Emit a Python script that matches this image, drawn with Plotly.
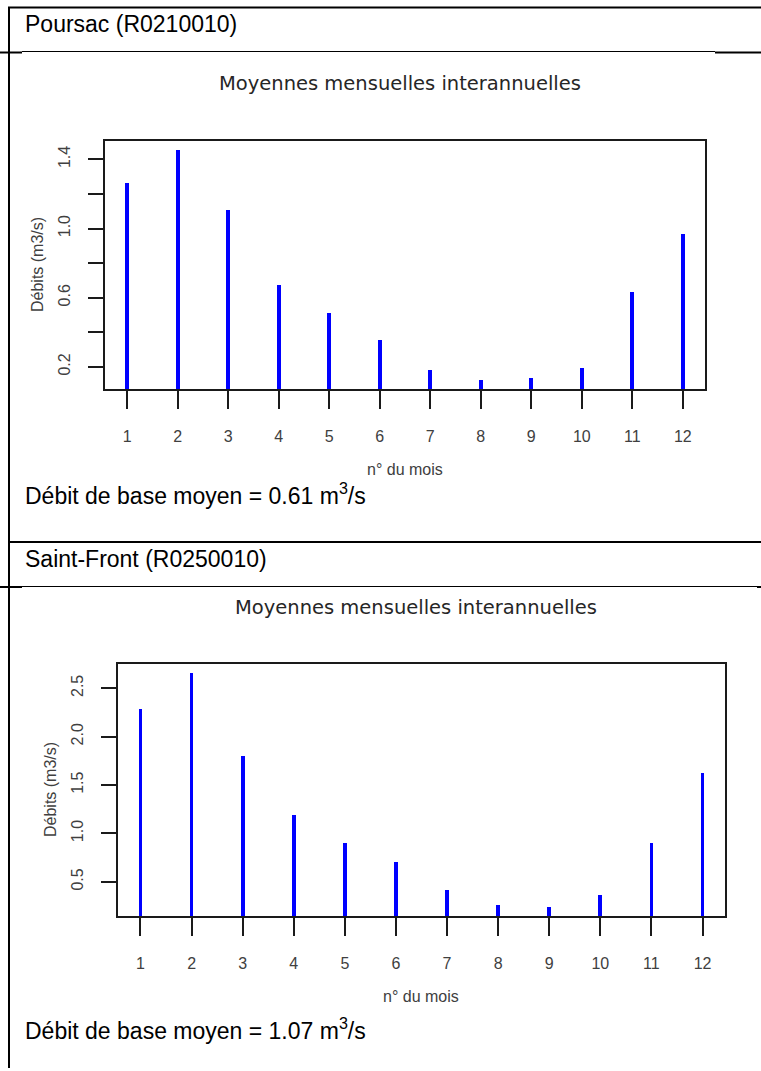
import plotly.graph_objects as go

# ---------------- data ----------------
months = [1, 2, 3, 4, 5, 6, 7, 8, 9, 10, 11, 12]
poursac_values = [1.265, 1.453, 1.106, 0.674, 0.514, 0.354, 0.181, 0.125, 0.138, 0.192, 0.635, 0.970]
saintfront_values = [2.285, 2.654, 1.80, 1.19, 0.90, 0.706, 0.414, 0.265, 0.244, 0.365, 0.90, 1.627]
poursac_yticks = [0.2, 0.6, 1.0, 1.4]
poursac_yticklabels = ["0.2", "0.6", "1.0", "1.4"]
poursac_yminor = [0.4, 0.8, 1.2]
saintfront_yticks = [0.5, 1.0, 1.5, 2.0, 2.5]
saintfront_yticklabels = ["0.5", "1.0", "1.5", "2.0", "2.5"]
saintfront_yminor = []
station_names = ["Poursac (R0210010)", "Saint-Front (R0250010)"]
base_flows = ["0.61", "1.07"]
chart_title = "Moyennes mensuelles interannuelles"
x_title = "n° du mois"
y_title = "Débits (m3/s)"

W, H = 761, 1071


def fx(px):
    return px / W


def fy(py):
    return 1 - py / H


def r_range(vals):
    lo, hi = min(vals), max(vals)
    span = hi - lo
    return [lo - 0.04 * span, hi + 0.04 * span]


fig = go.Figure()

# plot boxes in pixels: (left, top, right, bottom)
boxes = [(105, 141, 705, 389), (118, 664, 725, 916)]
series = [poursac_values, saintfront_values]
yticks = [poursac_yticks, saintfront_yticks]
yticklabels = [poursac_yticklabels, saintfront_yticklabels]
yminor = [poursac_yminor, saintfront_yminor]

tick_font = dict(family="Liberation Sans, Arial, sans-serif", size=16, color="#404040")

for i in range(2):
    xa = "x" if i == 0 else "x2"
    ya = "y" if i == 0 else "y2"
    fig.add_trace(go.Bar(
        x=months, y=series[i], base=0, width=0.075,
        marker=dict(color="#0000ff", line=dict(width=0)),
        xaxis=xa, yaxis=ya, showlegend=False, hoverinfo="x+y",
    ))
    l, t, r, b = boxes[i]
    axis_common = dict(
        showline=True, mirror=True, linecolor="#1a1a1a", linewidth=2,
        ticks="outside", tickcolor="#1a1a1a", tickwidth=2,
        showgrid=False, zeroline=False, tickfont=tick_font, fixedrange=True,
    )
    xkey = "xaxis" if i == 0 else "xaxis2"
    ykey = "yaxis" if i == 0 else "yaxis2"
    fig.update_layout(**{
        xkey: dict(domain=[fx(l), fx(r)], range=r_range(months), anchor=ya,
                   tickmode="array", tickvals=months, ticktext=[str(m) for m in months],
                   ticklen=18, ticklabelstandoff=14, **axis_common),
        ykey: dict(domain=[fy(b), fy(t)], range=r_range(series[i]), anchor=xa,
                   tickmode="array", tickvals=yticks[i], ticktext=yticklabels[i],
                   ticklen=15, tickangle=-90, ticklabelstandoff=12,
                   minor=dict(tickmode="array", tickvals=yminor[i], ticks="outside",
                              ticklen=15, tickwidth=2, tickcolor="#1a1a1a", showgrid=False),
                   **axis_common),
    })
    cx = (l + r) / 2
    # chart title
    fig.add_annotation(text=chart_title, x=fx(cx - 5), y=fy(t - 57), xref="paper", yref="paper",
                       showarrow=False, xanchor="center", yanchor="middle",
                       font=dict(family="DejaVu Sans, Verdana, sans-serif", size=19.5, color="#262626"))
    # x title
    fig.add_annotation(text=x_title, x=fx(cx), y=fy(b + 80), xref="paper", yref="paper",
                       showarrow=False, xanchor="center", yanchor="middle",
                       font=dict(family="Liberation Sans, Arial, sans-serif", size=16, color="#404040"))
    # y title
    fig.add_annotation(text=y_title, x=fx(l - 68), y=fy((t + b) / 2), xref="paper", yref="paper",
                       showarrow=False, xanchor="center", yanchor="middle", textangle=-90,
                       font=dict(family="Liberation Sans, Arial, sans-serif", size=16, color="#404040"))

# document text
doc_font = dict(family="Liberation Sans, Arial, sans-serif", size=23, color="#000000")
text_rows = [
    (station_names[0], 24),
    ("Débit de base moyen = " + base_flows[0] + " m<sup>3</sup>/s", 494),
    (station_names[1], 559),
    ("Débit de base moyen = " + base_flows[1] + " m<sup>3</sup>/s", 1029),
]
for txt, yc in text_rows:
    fig.add_annotation(text=txt, x=fx(23), y=fy(yc), xref="paper", yref="paper",
                       showarrow=False, xanchor="left", yanchor="middle", font=doc_font)

# table lines (pixel coordinates)
lines = [
    (8, 7.5, 761, 7.5, 2),
    (9, 7, 9, 1068, 2),
    (22, 51.5, 715, 51.5, 1),
    (0, 52.5, 22, 52.5, 2),
    (715, 52.5, 761, 52.5, 2),
    (8, 542, 761, 542, 2),
    (22, 586.5, 757, 586.5, 1),
    (0, 587, 22, 587, 2),
    (757, 587, 761, 587, 2),
]
for x0, y0, x1, y1, w in lines:
    fig.add_shape(type="line", xref="paper", yref="paper",
                  x0=fx(x0), y0=fy(y0), x1=fx(x1), y1=fy(y1),
                  line=dict(color="black", width=w))

fig.update_layout(
    width=W, height=H, autosize=False,
    margin=dict(l=0, r=0, t=0, b=0),
    paper_bgcolor="white", plot_bgcolor="white",
    bargap=0,
)

fig.write_html("out.html", config={"displayModeBar": False},
               post_script="document.body.style.margin='0';document.body.style.overflow='hidden';")
